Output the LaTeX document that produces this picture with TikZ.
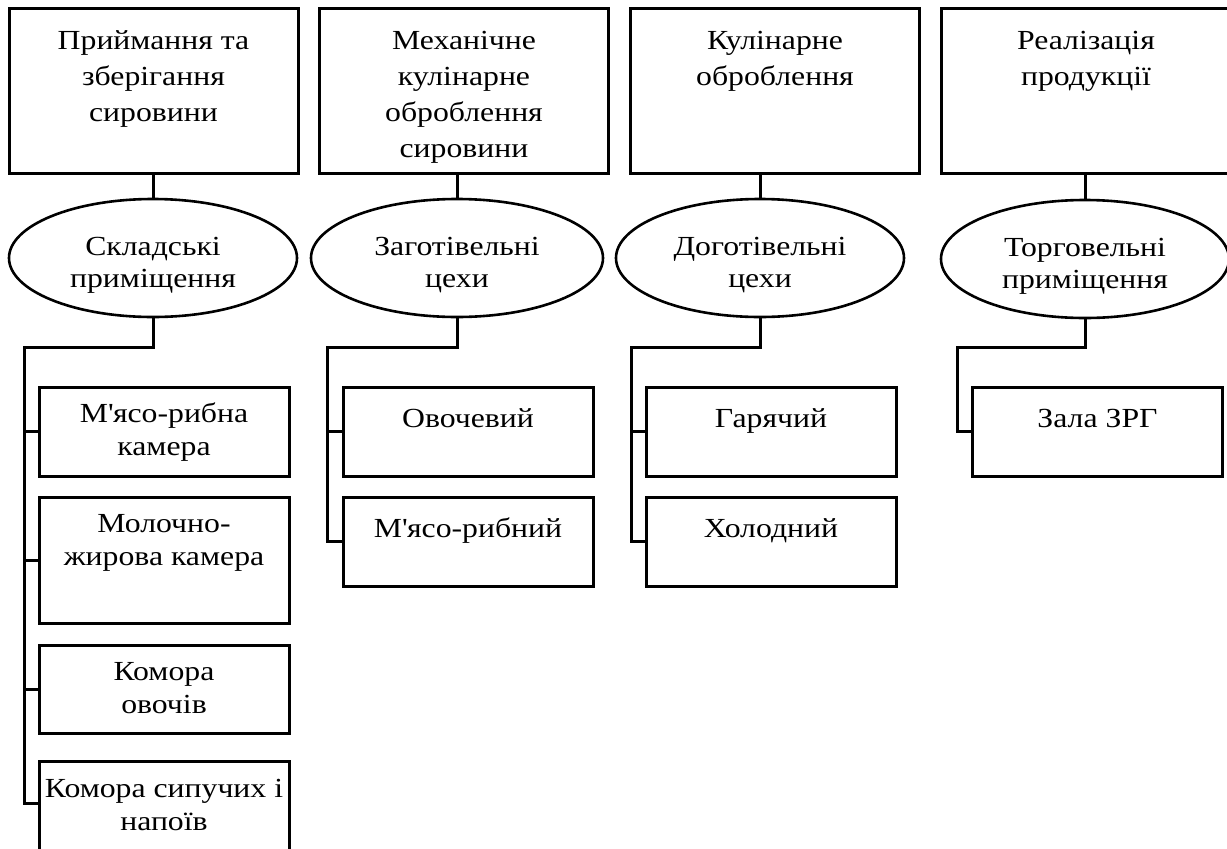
\documentclass[tikz,border=0pt]{standalone}
\usepackage{fontspec}
\setmainfont[FakeStretch=1.15]{Liberation Serif}
\usetikzlibrary{shapes.geometric}

\begin{document}
\begin{tikzpicture}[x=1pt,y=-1pt,
	stagebox/.style={draw,line width=3pt,minimum width=289pt,minimum height=165pt,inner sep=0pt},
	unitbox/.style={draw,line width=3pt,minimum width=250pt,inner sep=0pt},
	roomoval/.style={draw,ellipse,line width=2.6pt,minimum width=288pt,minimum height=118pt,inner sep=0pt},
	roomtext/.style={inner sep=0pt,align=center,font=\fontsize{27.6}{32}\selectfont},
	toptext/.style={anchor=north,inner sep=0pt,align=center,font=\fontsize{27.6}{36}\selectfont},
	unittext/.style={anchor=north,inner sep=0pt,align=center,font=\fontsize{27.6}{33}\selectfont},
	link/.style={line width=3pt}]

\useasboundingbox (0,0) rectangle (1227,849);
\fill[white] (0,0) rectangle (1227,849);
\clip (0,0) rectangle (1227,849);

\node[stagebox] (st1) at (153.5,90.5) {};
\node[stagebox] (st2) at (464,90.5) {};
\node[stagebox] (st3) at (775,90.5) {};
\node[stagebox] (st4) at (1086,90.5) {};
\node[toptext] (st1-t) at ([yshift=-18pt]st1.north) {\strut Приймання та\\зберігання\\сировини};
\node[toptext] (st2-t) at ([yshift=-18pt]st2.north) {\strut Механічне\\кулінарне\\оброблення\\сировини};
\node[toptext] (st3-t) at ([yshift=-18pt]st3.north) {\strut Кулінарне\\оброблення};
\node[toptext] (st4-t) at ([yshift=-18pt]st4.north) {\strut Реалізація\\продукції};

\node[roomoval] (ell1) at (153,258) {};
\node[roomoval,minimum width=292pt] (ell2) at (457,258) {};
\node[roomoval] (ell3) at (760,258) {};
\node[roomoval] (ell4) at (1085,259) {};
\node[roomtext] (ell1-t) at ([yshift=-7pt]ell1.center) {Складські\\приміщення};
\node[roomtext] (ell2-t) at ([yshift=-7pt]ell2.center) {Заготівельні\\цехи};
\node[roomtext] (ell3-t) at ([yshift=-7pt]ell3.center) {Доготівельні\\цехи};
\node[roomtext] (ell4-t) at ([yshift=-7pt]ell4.center) {Торговельні\\приміщення};

\node[unitbox,minimum height=89pt] (u11) at (164,431.5) {};
\node[unitbox,minimum height=126pt] (u12) at (164,560) {};
\node[unitbox,minimum height=88pt] (u13) at (164,689) {};
\node[unitbox,minimum height=92pt] (u14) at (164,807) {};
\node[unitbox,minimum height=89pt] (u21) at (468,431.5) {};
\node[unitbox,minimum height=89pt] (u22) at (468,541.5) {};
\node[unitbox,minimum height=89pt] (u31) at (771,431.5) {};
\node[unitbox,minimum height=89pt] (u32) at (771,541.5) {};
\node[unitbox,minimum height=89pt] (u41) at (1097.5,431.5) {};

\node[unittext] (u11-t) at ([yshift=-14pt]u11.north) {\strut М\textquotesingle ясо-рибна\\камера};
\node[unittext] (u12-t) at ([yshift=-14pt]u12.north) {\strut Молочно-\\жирова камера};
\node[unittext] (u13-t) at ([yshift=-14pt]u13.north) {\strut Комора\\овочів};
\node[unittext] (u14-t) at ([yshift=-15pt]u14.north) {\strut Комора сипучих і\\напоїв};
\node[unittext] (u21-t) at ([yshift=-19pt]u21.north) {\strut Овочевий};
\node[unittext] (u22-t) at ([yshift=-19pt]u22.north) {\strut М\textquotesingle ясо-рибний};
\node[unittext] (u31-t) at ([yshift=-19pt]u31.north) {\strut Гарячий};
\node[unittext] (u32-t) at ([yshift=-19pt]u32.north) {\strut Холодний};
\node[unittext] (u41-t) at ([yshift=-19pt]u41.north) {\strut Зала ЗРГ};

\foreach \i in {1,2,3,4}
	\draw[link] (ell\i.north |- st\i.south) -- (ell\i.north);

\coordinate (sp1) at (24,347);
\coordinate (sp2) at (327.5,347);
\coordinate (sp3) at (631.5,347);
\coordinate (sp4) at (957,347);

\draw[link] (ell1.south) |- (sp1) |- ([yshift=4pt]u14.west);
\foreach \u in {u11,u12,u13}
	\draw[link] (sp1 |- \u.west) -- (\u.west);
\draw[link] (ell2.south) |- (sp2) |- (u22.west);
\draw[link] (sp2 |- u21.west) -- (u21.west);
\draw[link] (ell3.south) |- (sp3) |- (u32.west);
\draw[link] (sp3 |- u31.west) -- (u31.west);
\draw[link] (ell4.south) |- (sp4) |- (u41.west);
\end{tikzpicture}
\end{document}
